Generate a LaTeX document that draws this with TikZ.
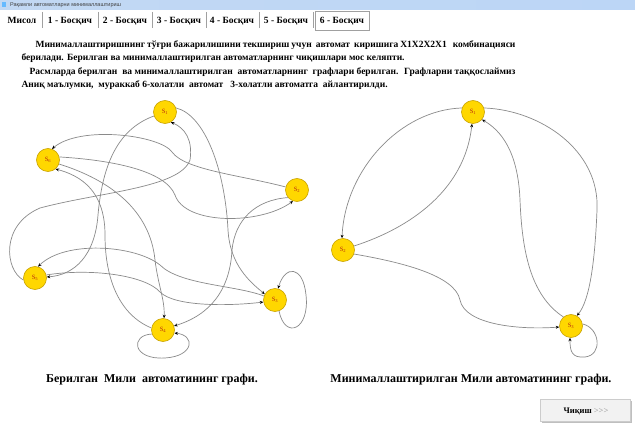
\documentclass[tikz,border=0pt]{standalone}
\usepackage{fontspec}
\setmainfont{Liberation Serif}
\newfontfamily\uisans{Liberation Sans}
\usetikzlibrary{arrows.meta}

\definecolor{stategold}{HTML}{FFD700}
\definecolor{statering}{HTML}{C9A300}
\definecolor{labelred}{HTML}{B8290F}
\definecolor{edgegray}{HTML}{8A8A8A}
\definecolor{titleblue}{HTML}{C2D8F3}
\definecolor{titleblue2}{HTML}{BCD6F6}
\definecolor{tabline}{HTML}{A0A0A0}
\definecolor{btnface}{HTML}{F2F2F2}

\begin{document}
\begin{tikzpicture}[
    x=1pt, y=-1pt,
    state/.style={circle, draw=statering, line width=0.6pt, fill=stategold, minimum size=23pt, inner sep=0pt, text=labelred, font=\fontsize{6.5}{7}\selectfont},
    edge/.style={-{Stealth[length=3.5pt, width=3pt, color=black]}, edgegray, line width=0.7pt},
    tabtext/.style={anchor=base, font=\bfseries\fontsize{9.5}{10}\selectfont},
    bodytext/.style={anchor=base west, font=\bfseries\fontsize{9.5}{11}\selectfont},
    caption/.style={anchor=base, font=\bfseries\fontsize{12}{13}\selectfont}
]

    \useasboundingbox (0,0) rectangle (635,441);
    \fill[white] (0,0) rectangle (635,441);

    % Title bar
    \shade[left color=titleblue, right color=titleblue2] (0,0) rectangle (635,10);
    \fill[blue!45!cyan!60] (1.5,2) rectangle (6,7.5);
    \node[anchor=west, inner sep=0pt, text=black!75, font=\uisans\fontsize{5.5}{6}\selectfont] (title) at (10,5) {Рақамли автоматларни минималлаштириш};

    % Tabs
    \foreach \x in {42,98,152,206,259,313} {
        \draw[tabline] (\x,12) -- (\x,28);
    }
    \draw[tabline, fill=white] (315,11) rectangle (369,30);
    \node[tabtext] (tab0) at (22,23.5) {Мисол};
    \foreach \i/\x in {1/70,2/125,3/179,4/232,5/286,6/342} {
        \node[tabtext] (tab\i) at (\x,23.5) {\i\ - Босқич};
    }

    % Text
    \node[bodytext] (line1) at (32,48) {\makebox[480pt][s]{Минималлаштиришнинг тўғри бажарилишини текшириш учун \ автомат \ киришига X1X2X2X1 \ \ комбинацияси}};
    \node[bodytext] (line2) at (18,61) {берилади. Берилган ва минималлаштирилган автоматларнинг чиқишлари мос келяпти.};
    \node[bodytext] (line3) at (26,75) {\makebox[486pt][s]{Расмларда берилган \ ва минималлаштирилган \ автоматларнинг \ графлари берилган. \ Графларни таққослаймиз}};
    \node[bodytext] (line4) at (18,88) {Аниқ маълумки, \ мураккаб 6-холатли \ автомат \ \ 3-холатли автоматга \ айлантирилди.};

    % Given automaton
    \node[state] (s1) at (165,112) {S\textsubscript{1}};
    \node[state] (s6) at (48,160) {S\textsubscript{6}};
    \node[state] (s2) at (297,190) {S\textsubscript{2}};
    \node[state] (s5) at (35,278) {S\textsubscript{5}};
    \node[state] (s3) at (275,300) {S\textsubscript{3}};
    \node[state] (s4) at (163,330) {S\textsubscript{4}};

    \draw[edge] (s5.190) .. controls (5,270) and (0,225) .. (40,208) .. controls (100,192) and (180,188) .. (190,160) .. controls (193,140) and (185,128) .. (s1.-60);
    \draw[edge] (s2.165) .. controls (240,175) and (185,170) .. (172,152) .. controls (160,135) and (80,125) .. (s6.70);
    \draw[edge] (s6.15) .. controls (110,160) and (165,170) .. (175,195) .. controls (185,225) and (260,225) .. (s2.250);
    \draw[edge] (s1.20) .. controls (205,115) and (225,170) .. (228,230) .. controls (230,265) and (250,282) .. (s3.150);
    \draw[edge] (s6.-20) .. controls (110,180) and (150,210) .. (155,260) .. controls (158,285) and (165,300) .. (s4.85);
    \draw[edge] (s4.170) .. controls (120,315) and (105,280) .. (105,235) .. controls (105,200) and (90,178) .. (s6.-50);
    \draw[edge] (s1.200) .. controls (115,130) and (102,170) .. (98,215) .. controls (95,255) and (75,275) .. (s5.5);
    \draw[edge] (s3.160) .. controls (235,285) and (180,285) .. (160,265) .. controls (135,245) and (65,240) .. (s5.75);
    \draw[edge] (s5.15) .. controls (90,268) and (145,275) .. (160,292) .. controls (175,307) and (230,306) .. (s3.190);
    \draw[edge] (s2.220) .. controls (255,200) and (235,220) .. (232,250) .. controls (230,290) and (210,315) .. (s4.20);
    \draw[edge] (s3.-70) .. controls (285,340) and (310,330) .. (306,295) .. controls (303,265) and (285,265) .. (s3.75);
    \draw[edge] (s4.200) .. controls (130,335) and (132,360) .. (165,358) .. controls (195,356) and (195,335) .. (s4.-15);

    % Minimized automaton
    \node[state] (r1) at (473,112) {S\textsubscript{1}};
    \node[state] (r2) at (343,250) {S\textsubscript{2}};
    \node[state] (r3) at (571,326) {S\textsubscript{3}};

    \draw[edge] (r1.160) .. controls (400,110) and (345,170) .. (r2.95);
    \draw[edge] (r2.20) .. controls (410,228) and (465,190) .. (r1.-95);
    \draw[edge] (r2.-20) .. controls (400,262) and (455,275) .. (460,300) .. controls (465,325) and (520,330) .. (r3.185);
    \draw[edge] (r3.130) .. controls (530,295) and (522,250) .. (520,200) .. controls (518,150) and (500,130) .. (r1.-40);
    \draw[edge] (r1.20) .. controls (540,110) and (600,150) .. (597,210) .. controls (595,260) and (590,300) .. (r3.60);
    \draw[edge] (r3.10) .. controls (600,328) and (603,355) .. (585,357) .. controls (572,358) and (570,352) .. (r3.-95);

    % Captions
    \node[caption] (capL) at (152,382) {Берилган \ Мили \ автоматининг графи.};
    \node[caption] (capR) at (471,382) {Минималлаштирилган Мили автоматининг графи.};

    % Button
    \fill[black!25] (542,401) rectangle (632,423);
    \draw[black!20, fill=btnface] (540,399) rectangle (630,421);
    \node[anchor=base, font=\fontsize{8.5}{9}\selectfont] (exit) at (586,413.5) {\textbf{Чиқиш} \textcolor{black!45}{{>}{>}{>}}};

\end{tikzpicture}
\end{document}
